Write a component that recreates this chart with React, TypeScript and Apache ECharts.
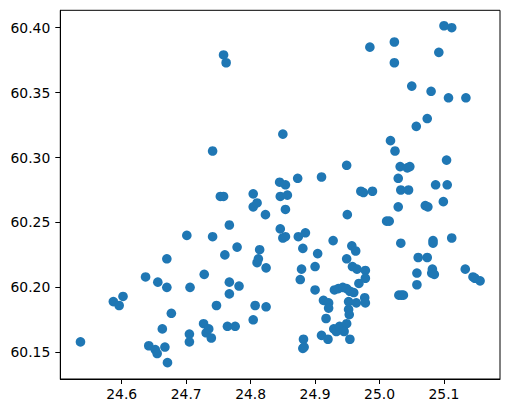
import React, { useEffect, useRef } from "react";
import * as echarts from "echarts";

const lon: number[] = [
  24.536, 24.587, 24.596, 24.602, 24.637, 24.642, 24.652, 24.655, 24.656, 24.663,
  24.667, 24.670, 24.670, 24.671, 24.677, 24.701, 24.705, 24.705, 24.706, 24.728,
  24.727, 24.731, 24.735, 24.739, 24.741, 24.741, 24.747, 24.753, 24.758, 24.758,
  24.762, 24.760, 24.764, 24.767, 24.767, 24.767, 24.776, 24.779, 24.782, 24.804,
  24.804, 24.810, 24.804, 24.807, 24.810, 24.812, 24.814, 24.823, 24.824, 24.824,
  24.845, 24.854, 24.846, 24.857, 24.854, 24.850, 24.846, 24.850, 24.854, 24.873,
  24.874, 24.885, 24.881, 24.879, 24.877, 24.882, 24.881, 24.883, 24.910, 24.904,
  24.900, 24.900, 24.910, 24.920, 24.913, 24.921, 24.921, 24.917, 24.928, 24.930,
  24.936, 24.943, 24.949, 24.954, 24.960, 24.929, 24.933, 24.938, 24.944, 24.949,
  24.945, 24.949, 24.950, 24.949, 24.954, 24.952, 24.953, 24.952, 24.957, 24.963,
  24.958, 24.965, 24.968, 24.964, 24.971, 24.975, 24.978, 24.978, 24.977, 24.978,
  24.985, 24.989, 25.011, 25.015, 25.017, 25.023, 25.023, 25.024, 25.029, 25.029,
  25.030, 25.034, 25.037, 25.032, 25.043, 25.047, 25.033, 25.045, 25.033, 25.050,
  25.057, 25.060, 25.058, 25.058, 25.074, 25.071, 25.075, 25.074, 25.080, 25.083,
  25.083, 25.082, 25.081, 25.085, 25.087, 25.092, 25.100, 25.112, 25.104, 25.105,
  25.107, 25.099, 25.112, 25.134, 25.133, 25.145, 25.148, 25.156,
];

const lat: number[] = [
  60.158, 60.189, 60.186, 60.193, 60.208, 60.155, 60.152, 60.149, 60.204, 60.168,
  60.154, 60.200, 60.222, 60.142, 60.180, 60.240, 60.164, 60.158, 60.200, 60.210,
  60.172, 60.165, 60.168, 60.161, 60.305, 60.239, 60.186, 60.270, 60.270, 60.379,
  60.373, 60.225, 60.170, 60.204, 60.195, 60.248, 60.170, 60.231, 60.201, 60.272,
  60.262, 60.265, 60.175, 60.186, 60.219, 60.222, 60.229, 60.256, 60.215, 60.185,
  60.281, 60.279, 60.270, 60.271, 60.260, 60.318, 60.245, 60.238, 60.239, 60.284,
  60.239, 60.242, 60.230, 60.214, 60.206, 60.160, 60.153, 60.154, 60.285, 60.226,
  60.216, 60.198, 60.163, 60.160, 60.190, 60.188, 60.184, 60.176, 60.236, 60.198,
  60.199, 60.200, 60.199, 60.197, 60.196, 60.168, 60.166, 60.170, 60.167, 60.172,
  60.166, 60.294, 60.256, 60.222, 60.160, 60.183, 60.179, 60.189, 60.232, 60.228,
  60.216, 60.214, 60.203, 60.188, 60.274, 60.273, 60.213, 60.207, 60.192, 60.188,
  60.385, 60.274, 60.251, 60.251, 60.313, 60.389, 60.373, 60.305, 60.284, 60.262,
  60.194, 60.194, 60.194, 60.293, 60.292, 60.293, 60.275, 60.275, 60.234, 60.355,
  60.324, 60.223, 60.211, 60.202, 60.330, 60.263, 60.262, 60.223, 60.351, 60.236,
  60.234, 60.214, 60.211, 60.210, 60.279, 60.381, 60.4015, 60.400, 60.298, 60.279,
  60.346, 60.266, 60.238, 60.346, 60.214, 60.208, 60.207, 60.205,
];

const xTicks: number[] = [24.6, 24.7, 24.8, 24.9, 25.0, 25.1];
const yTicks: number[] = [60.15, 60.2, 60.25, 60.3, 60.35, 60.4];

export default function App() {
  const ref = useRef<HTMLDivElement>(null);
  useEffect(() => {
    if (!ref.current) return;
    const chart = echarts.init(ref.current, null, { renderer: "svg" });
    const data = lon.map((x, i) => [x, lat[i]]);
    const font = "DejaVu Sans";
    chart.setOption({
      animation: false,
      grid: {
        left: 60.3,
        right: 9,
        top: 10.3,
        bottom: 34,
        show: true,
        borderColor: "#000",
        borderWidth: 1,
        backgroundColor: "transparent",
      },
      xAxis: {
        type: "value",
        min: 24.5047,
        max: 25.1869,
        splitLine: { show: false },
        axisLine: { show: true, onZero: false, lineStyle: { color: "#000", width: 1 } },
        axisTick: {
          show: true,
          length: 5,
          lineStyle: { color: "#000", width: 1 },
          customValues: xTicks,
        },
        axisLabel: {
          color: "#000",
          fontFamily: font,
          fontSize: 13.9,
          margin: 8,
          customValues: xTicks,
          formatter: (v: number) => v.toFixed(1),
        },
      },
      yAxis: {
        type: "value",
        min: 60.1294,
        max: 60.4134,
        splitLine: { show: false },
        axisLine: { show: true, onZero: false, lineStyle: { color: "#000", width: 1 } },
        axisTick: {
          show: true,
          length: 5,
          lineStyle: { color: "#000", width: 1 },
          customValues: yTicks,
        },
        axisLabel: {
          color: "#000",
          fontFamily: font,
          fontSize: 13.9,
          margin: 10,
          customValues: yTicks,
          formatter: (v: number) => v.toFixed(2),
        },
      },
      series: [
        {
          type: "scatter",
          data,
          symbol: "circle",
          symbolSize: 9.6,
          itemStyle: { color: "#1f77b4", opacity: 1 },
        },
      ],
    });
    return () => chart.dispose();
  }, []);
  return <div ref={ref} style={{ width: 509, height: 413, margin: -8 }} />;
}
